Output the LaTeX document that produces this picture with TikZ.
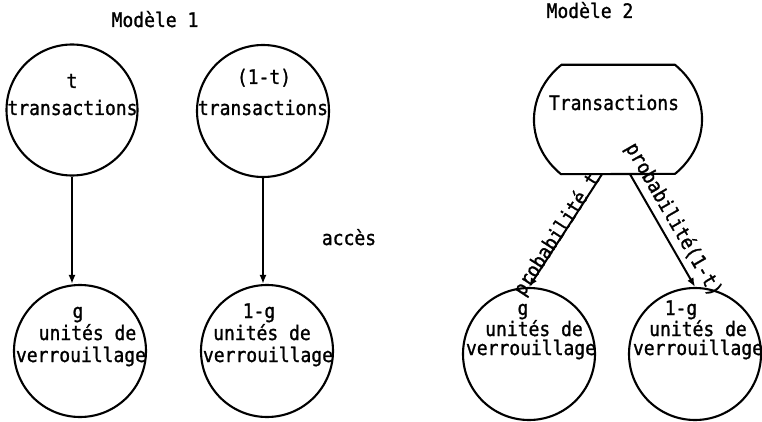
\documentclass[tikz,border=0pt]{standalone}
\usepackage{fontspec}
\newfontfamily\tw[FakeStretch=0.9, FakeBold=1.2]{DejaVu Sans Mono}
\usetikzlibrary{arrows.meta}
\begin{document}
\begin{tikzpicture}[x=1pt,y=1pt,
  txt/.style={font=\tw\fontsize{20}{22}\selectfont, inner sep=0pt, anchor=base},
  ring/.style={circle, draw, line width=2.1pt, minimum size=#1, inner sep=0pt},
  conn/.style={line width=2pt, -{Latex[length=9pt,width=7pt]}},
  rconn/.style={line width=2pt, {Latex[length=9pt,width=7pt]}-},
  lbl/.style={font=\tw\fontsize{20}{22}\selectfont, sloped, inner sep=0pt, anchor=base}]
\useasboundingbox (0,0) rectangle (762,421);
% Modele 1
\node[txt] (m1) at (155,394) {Modèle 1};
\node[ring=131pt] (c1) at (72,311) {};
\node[ring=132pt] (c2) at (263,310) {};
\node[ring=132pt] (c3) at (80,70) {};
\node[ring=132pt] (c4) at (267,70) {};
\node[txt] (t1a) at (72,333) {t};
\node[txt] (t1b) at (72.5,306) {transactions};
\node[txt] (t2a) at (264,337) {(1-t)};
\node[txt] (t2b) at (263,306) {transactions};
\node[txt] (g3a) at (78,103) {g};
\node[txt] (g3b) at (87.5,81) {unités de};
\node[txt] (g3c) at (81,59) {verrouillage};
\node[txt] (g4a) at (259,103) {1-g};
\node[txt] (g4b) at (262,81) {unités de};
\node[txt] (g4c) at (268,59) {verrouillage};
\draw[conn] (c1.south) -- (c1.south |- c3.north);
\draw[conn] (c2.south) -- (c2.south |- c4.north);
\node[txt] (acc) at (349,176) {accès};
% Modele 2
\node[txt] (m2) at (590,403) {Modèle 2};
\node[minimum width=168pt, minimum height=109pt, inner sep=0pt] (T) at (618,301.5) {};
\draw[line width=2.1pt, line join=round] ([xshift=-57pt]T.north) -- ([xshift=57pt]T.north)
  arc[start angle=47.3, end angle=-47.3, x radius=84, y radius=74.2]
  -- ([xshift=-57pt]T.south)
  arc[start angle=227.3, end angle=132.7, x radius=84, y radius=74.2] -- cycle;
\node[txt] (tt) at (614,311) {Transactions};
\node[ring=132pt] (c5) at (529,67) {};
\node[ring=132pt] (c6) at (695,67) {};
\node[txt] (g5a) at (523,106) {g};
\node[txt] (g5b) at (534,85) {unités de};
\node[txt] (g5c) at (531,66) {verrouillage};
\node[txt] (g6a) at (681,106) {1-g};
\node[txt] (g6b) at (698,85) {unités de};
\node[txt] (g6c) at (698,66) {verrouillage};
\draw[rconn] (c5.north) -- ([xshift=-16pt]T.south)
  node[lbl, pos=0.44, yshift=-1pt] (p1) {probabilité t};
\draw[conn] ([xshift=12pt]T.south) -- (c6.north)
  node[lbl, pos=0.47, yshift=9pt] (p2) {probabilité(1-t)};
\end{tikzpicture}
\end{document}
